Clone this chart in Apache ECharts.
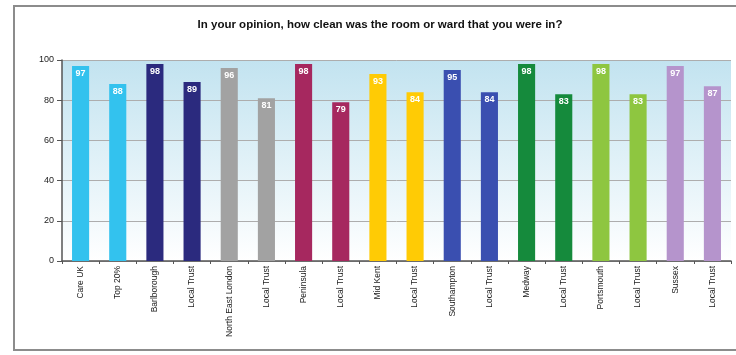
<!DOCTYPE html>
<html><head><meta charset="utf-8">
<script src="https://cdn.jsdelivr.net/npm/echarts@6/dist/echarts.min.js"></script>
<style>html,body{margin:0;padding:0;background:#fff}#c{width:736px;height:355px}
#frame{position:absolute;left:13px;top:5px;width:740px;height:346px;border:2px solid #8c8c8c;box-sizing:border-box;pointer-events:none}</style>
</head><body><div id="c"></div><div id="frame"></div>
<script>
const categories = ["Care UK","Top 20%","Barlborough","Local Trust","North East London","Local Trust","Peninsula","Local Trust","Mid Kent","Local Trust","Southampton","Local Trust","Medway","Local Trust","Portsmouth","Local Trust","Sussex","Local Trust"];
const values = [97,88,98,89,96,81,98,79,93,84,95,84,98,83,98,83,97,87];
const barColors = ["#33c2ee","#33c2ee","#2b2a7e","#2b2a7e","#a2a2a2","#a2a2a2","#a6285f","#a6285f","#ffcb05","#ffcb05","#3a4fb0","#3a4fb0","#158a3c","#158a3c","#8ec640","#8ec640","#b594cc","#b594cc"];
const yTicks = [0,20,40,60,80,100];

const chart = echarts.init(document.getElementById('c'));
chart.setOption({
  animation:false,
  title:{text:"In your opinion, how clean was the room or ward that you were in?",left:375,textAlign:'center',top:14,
    textStyle:{fontFamily:'Liberation Sans, Arial',fontSize:11.5,fontWeight:'bold',color:'#111'}},
  grid:{left:62,right:5,top:60,bottom:94,show:true,borderWidth:0,
    backgroundColor:{type:'linear',x:0,y:0,x2:0,y2:1,colorStops:[{offset:0,color:'#c2e3f0'},{offset:1,color:'#ffffff'}]}},
  xAxis:{type:'category',data:categories,
    axisLine:{lineStyle:{color:'#555',width:1.5}},
    axisTick:{show:true,length:3,lineStyle:{color:'#555'}},
    axisLabel:{rotate:90,interval:0,fontSize:8.5,color:'#222',fontFamily:'Liberation Sans, Arial',margin:5}},
  yAxis:{type:'value',min:0,max:100,interval:20,
    axisLine:{show:true,lineStyle:{color:'#555',width:1.5}},
    axisTick:{show:true,length:5,lineStyle:{color:'#555'}},
    axisLabel:{fontSize:9,color:'#222',fontFamily:'Liberation Sans, Arial',margin:8,
      formatter:v=>yTicks.includes(v)?String(v):''},
    splitLine:{show:true,lineStyle:{color:'#adadad',width:1}}},
  series:[{type:'bar',barWidth:'46%',
    data:values.map((v,i)=>({value:v,itemStyle:{color:barColors[i]}})),
    label:{show:true,position:'insideTop',distance:3,color:'#fff',fontWeight:'bold',fontSize:9,fontFamily:'Liberation Sans, Arial'}}]
});
</script></body></html>
